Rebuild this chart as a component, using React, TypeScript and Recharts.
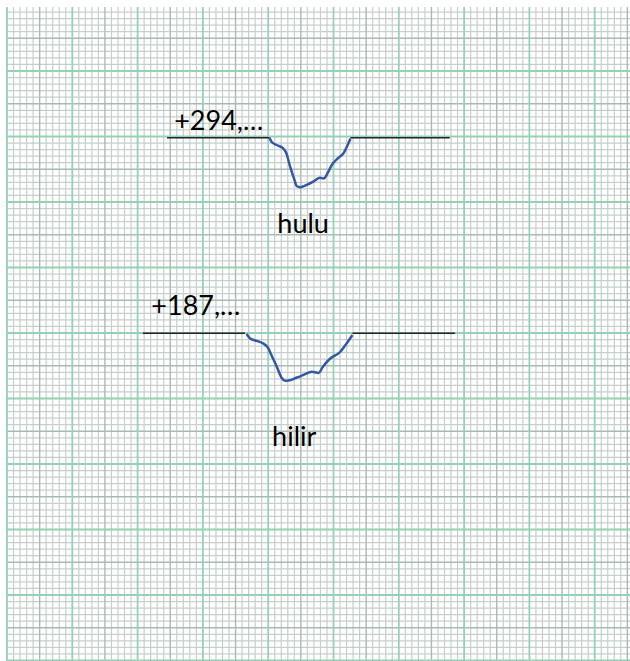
import { ComposedChart, CartesianGrid, Line, ReferenceDot, XAxis, YAxis } from "recharts";

// paper coordinates in millimetres (minor grid squares), y grows downward
const hulu_left_bank = [
  { x: 24.5, y: 20.2 },
  { x: 40.2, y: 20.2 },
];
const hulu_right_bank = [
  { x: 52.6, y: 20.2 },
  { x: 67.8, y: 20.2 },
];
const hulu_channel = [
  { x: 40.2, y: 20.2 },
  { x: 40.5, y: 20.8 },
  { x: 41.3, y: 21.3 },
  { x: 42.3, y: 21.8 },
  { x: 42.8, y: 22.6 },
  { x: 43.3, y: 24.4 },
  { x: 43.95, y: 26.4 },
  { x: 44.4, y: 27.6 },
  { x: 44.9, y: 27.75 },
  { x: 45.9, y: 27.4 },
  { x: 46.9, y: 26.9 },
  { x: 47.9, y: 26.3 },
  { x: 48.5, y: 26.4 },
  { x: 49.2, y: 25.4 },
  { x: 49.7, y: 24.4 },
  { x: 50.7, y: 23.3 },
  { x: 51.5, y: 22.6 },
  { x: 52.3, y: 21.0 },
  { x: 52.6, y: 20.3 },
];

const hilir_left_bank = [
  { x: 20.8, y: 50.05 },
  { x: 36.45, y: 50.05 },
];
const hilir_right_bank = [
  { x: 52.9, y: 50.05 },
  { x: 68.6, y: 50.05 },
];
const hilir_channel = [
  { x: 36.7, y: 50.15 },
  { x: 37.2, y: 50.8 },
  { x: 38.2, y: 51.2 },
  { x: 39.25, y: 51.6 },
  { x: 40.0, y: 52.3 },
  { x: 40.5, y: 53.4 },
  { x: 41.3, y: 55.1 },
  { x: 42.1, y: 56.9 },
  { x: 42.6, y: 57.3 },
  { x: 43.3, y: 57.2 },
  { x: 44.4, y: 56.8 },
  { x: 45.4, y: 56.4 },
  { x: 46.7, y: 55.9 },
  { x: 47.7, y: 56.1 },
  { x: 48.4, y: 55.1 },
  { x: 49.5, y: 53.9 },
  { x: 51.0, y: 52.9 },
  { x: 52.0, y: 51.6 },
  { x: 52.9, y: 50.3 },
];

const labels = [
  { x: 25.6, y: 19.0, text: "+294,…" },
  { x: 41.4, y: 34.8, text: "hulu" },
  { x: 22.1, y: 47.25, text: "+187,…" },
  { x: 40.6, y: 67.25, text: "hilir" },
];

const W = 630;
const H = 661;
// where millimetre 0 of the paper sits, and mm size in px
const X0 = 7;
const Y0 = 5.5;
const SX = 6.53;
const SY = 6.55;
const M = { top: 7, left: 6, right: 0, bottom: 0 };

const xDomain = [(M.left - X0) / SX, (W - X0) / SX];
const yDomain = [(M.top - Y0) / SY, (H - Y0) / SY];

const range = (n: number) => Array.from({ length: n }, (_, i) => i);
const vMM = range(96);
const hMM = range(101);
const px = (i: number) => X0 + i * SX;
const py = (i: number) => Y0 + i * SY;

const minorV = vMM.filter((i) => i % 5 !== 0).map(px);
const midV = vMM.filter((i) => i % 5 === 0 && i % 10 !== 0).map(px);
const majorV = vMM.filter((i) => i % 10 === 0).map(px);
const minorH = hMM.filter((i) => i % 5 !== 0).map(py).filter((v) => v > M.top);
const midH = hMM.filter((i) => i % 5 === 0 && i % 10 !== 0).map(py).filter((v) => v > M.top);
const majorH = hMM.filter((i) => i % 10 === 0).map(py).filter((v) => v > M.top);

const FONT = "Lato, 'Open Sans', sans-serif";

function TextLabel(props: any) {
  const { viewBox, value } = props;
  const cx = viewBox.x + viewBox.width / 2;
  const cy = viewBox.y + viewBox.height / 2;
  return (
    <text x={cx} y={cy} fill="#000" fontSize={27} fontFamily={FONT} textAnchor="start">
      {value}
    </text>
  );
}

export default function App() {
  return (
    <div style={{ position: "absolute", left: 0, top: 0, width: W, height: H, background: "#fff" }}>
      <ComposedChart width={W} height={H} margin={M}>
        <XAxis type="number" dataKey="x" domain={xDomain} allowDataOverflow hide />
        <YAxis type="number" dataKey="y" domain={yDomain} reversed allowDataOverflow hide />
        <CartesianGrid verticalPoints={minorV} horizontalPoints={minorH} stroke="#c6cfcb" strokeWidth={1.2} />
        <CartesianGrid verticalPoints={midV} horizontalPoints={midH} stroke="#aab9b2" strokeWidth={1.4} />
        <CartesianGrid verticalPoints={majorV} horizontalPoints={majorH} stroke="#93d2b6" strokeWidth={1.8} />
        <Line data={hulu_left_bank} dataKey="y" stroke="#222" strokeWidth={1.5} dot={false} isAnimationActive={false} />
        <Line data={hulu_right_bank} dataKey="y" stroke="#222" strokeWidth={1.5} dot={false} isAnimationActive={false} />
        <Line data={hulu_channel} dataKey="y" type="monotone" stroke="#3457a5" strokeWidth={2.5} dot={false} isAnimationActive={false} />
        <Line data={hilir_left_bank} dataKey="y" stroke="#222" strokeWidth={1.5} dot={false} isAnimationActive={false} />
        <Line data={hilir_right_bank} dataKey="y" stroke="#222" strokeWidth={1.5} dot={false} isAnimationActive={false} />
        <Line data={hilir_channel} dataKey="y" type="monotone" stroke="#3457a5" strokeWidth={2.5} dot={false} isAnimationActive={false} />
        {labels.map((l) => (
          <ReferenceDot
            key={l.text}
            x={l.x}
            y={l.y}
            r={1}
            fill="none"
            stroke="none"
            label={<TextLabel value={l.text} />}
          />
        ))}
      </ComposedChart>
    </div>
  );
}
